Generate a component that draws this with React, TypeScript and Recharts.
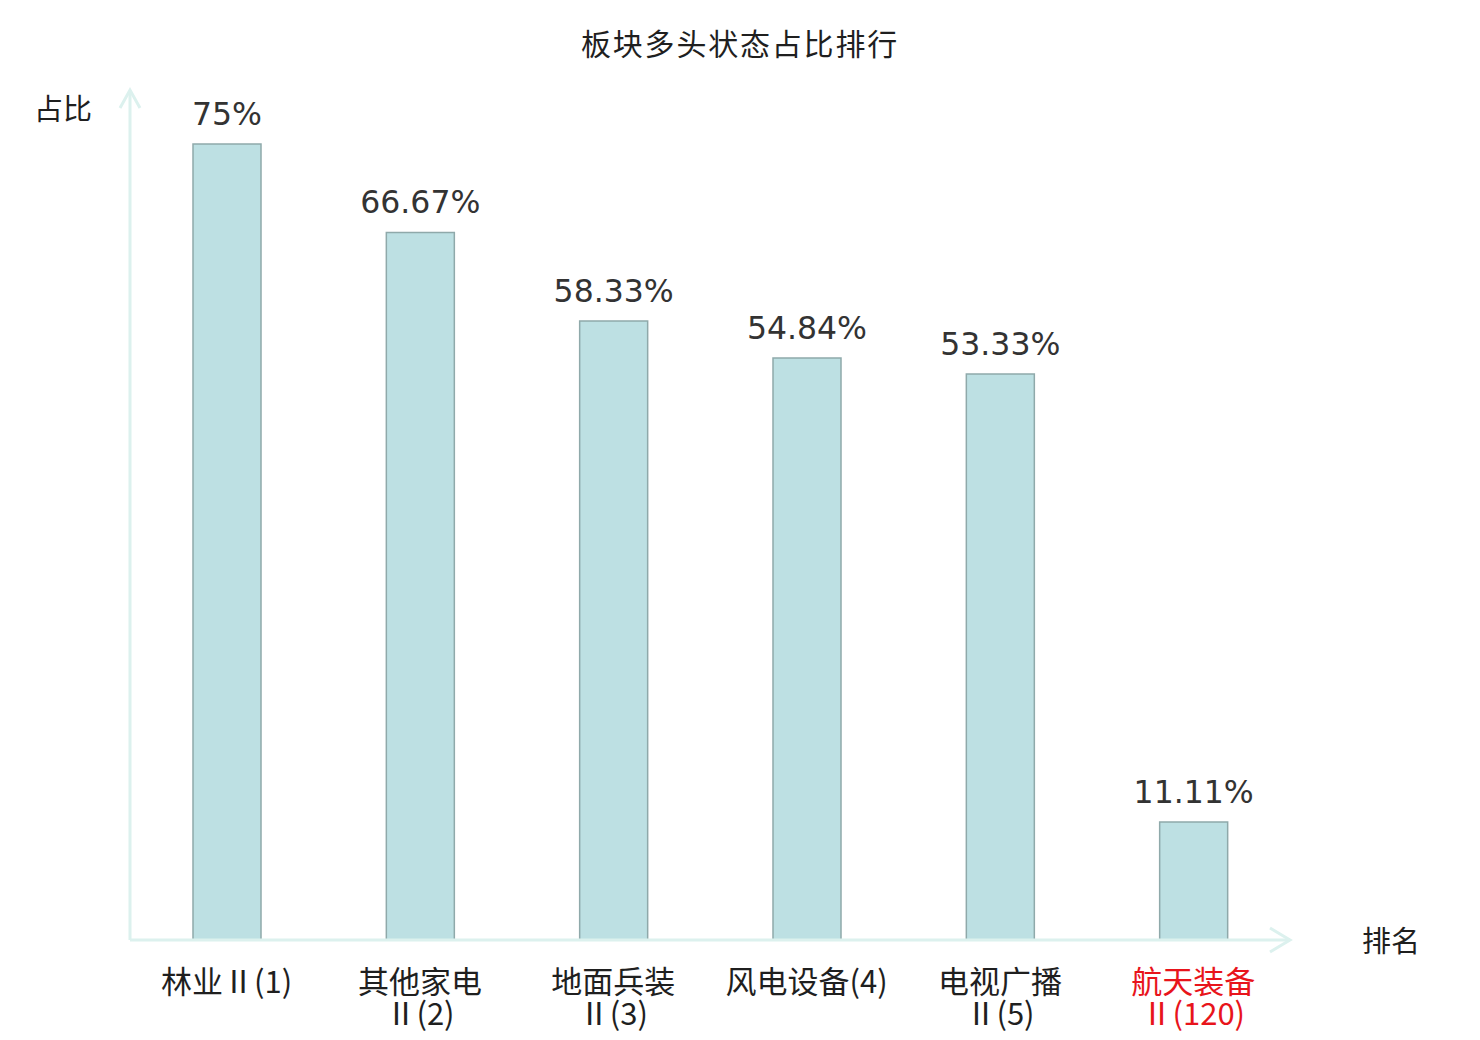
import React from "react";
import { BarChart, Bar, XAxis, YAxis, LabelList } from "recharts";

const categories = ["林业Ⅱ(1)", "其他家电Ⅱ(2)", "地面兵装Ⅱ(3)", "风电设备(4)", "电视广播Ⅱ(5)", "航天装备Ⅱ(120)"];
const tickLines = [["林业Ⅱ(1)"], ["其他家电", "Ⅱ(2)"], ["地面兵装", "Ⅱ(3)"], ["风电设备(4)"], ["电视广播", "Ⅱ(5)"], ["航天装备", "Ⅱ(120)"]];
const highlighted = [false, false, false, false, false, true];
const values = [75, 66.67, 58.33, 54.84, 53.33, 11.11];
const yDomain = [0, 80];

const data = categories.map((name, i) => ({ name, value: values[i], idx: i }));

const AXIS_COLOR = "#dcf1ee";
const CJK = "'Noto Sans CJK SC', 'Noto Sans', sans-serif";

const Tick = (props: any) => {
  const { x, y, index } = props;
  const lines = tickLines[index] || [];
  const color = highlighted[index] ? "#e8141b" : "#1f1f1f";
  return (
    <text x={x} y={y} textAnchor="middle" fontSize={31} fontFamily={CJK} fill={color}>
      {lines.map((l, i) => (
        <tspan key={i} x={x} dy={i === 0 ? 45 : 32}>
          {l}
        </tspan>
      ))}
    </text>
  );
};

const XAxisDecor = (props: any) => {
  const vb = props.viewBox || {};
  const x1 = vb.x + vb.width;
  const y = vb.y;
  return (
    <g>
      <polyline points={`${x1 - 20},${y - 12} ${x1},${y} ${x1 - 20},${y + 12}`} fill="none" stroke={AXIS_COLOR} strokeWidth={3} />
      <text x={x1 + 72} y={y + 12} fontSize={29} fontFamily={CJK} fill="#1f1f1f">排名</text>
    </g>
  );
};

const YAxisDecor = (props: any) => {
  const vb = props.viewBox || {};
  const x = vb.x + vb.width;
  const y = vb.y - 1;
  return (
    <g>
      <polyline points={`${x - 10},${y + 18} ${x},${y} ${x + 10},${y + 18}`} fill="none" stroke={AXIS_COLOR} strokeWidth={3} />
      <text x={x - 38} y={y + 30} textAnchor="end" fontSize={29} fontFamily={CJK} fill="#1f1f1f">占比</text>
    </g>
  );
};

export default function App() {
  return (
    <div style={{ position: "absolute", left: 0, top: 0, width: 1480, height: 1040, background: "#fff" }}>
      <div
        style={{
          position: "absolute",
          left: 0,
          top: 22,
          width: 1480,
          textAlign: "center",
          fontFamily: CJK,
          fontSize: 30,
          letterSpacing: 1.8,
          color: "#1f1f1f",
          lineHeight: "40px",
        }}
      >
        板块多头状态占比排行
      </div>
      <BarChart width={1480} height={1040} data={data} margin={{ top: 91, right: 190, bottom: 0, left: 70 }}>
        <XAxis
          dataKey="name"
          axisLine={{ stroke: AXIS_COLOR, strokeWidth: 3 }}
          tickLine={false}
          tick={<Tick />}
          interval={0}
          height={100}
          label={{ content: <XAxisDecor /> }}
        />
        <YAxis
          domain={yDomain}
          width={60}
          tick={false}
          tickLine={false}
          axisLine={{ stroke: AXIS_COLOR, strokeWidth: 3 }}
          label={{ content: <YAxisDecor /> }}
        />
        <Bar dataKey="value" barSize={68} fill="#bde0e3" stroke="#8fa9aa" strokeWidth={1.5} isAnimationActive={false}>
          <LabelList
            dataKey="value"
            position="top"
            offset={19}
            formatter={(v: any) => `${v}%`}
            fontSize={31.5}
            fontFamily="DejaVu Sans"
            fill="#333333"
          />
        </Bar>
      </BarChart>
    </div>
  );
}
